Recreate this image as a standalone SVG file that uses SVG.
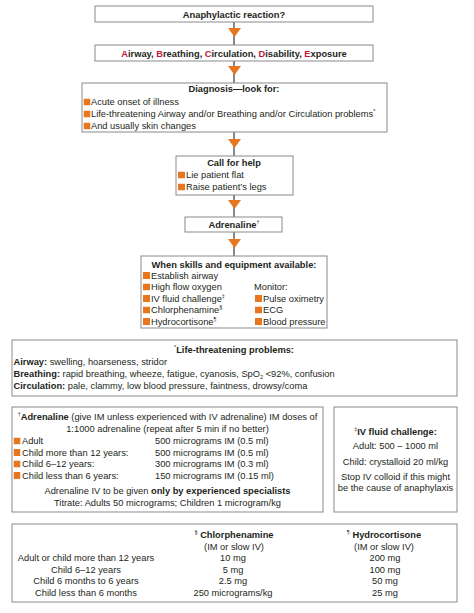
<svg xmlns="http://www.w3.org/2000/svg" width="474" height="613" viewBox="0 0 474 613">
<defs>
<style>
text{font-family:"Liberation Sans",Arial,sans-serif;font-size:9.3px;fill:#231f20}
.b{font-weight:bold}
.c{text-anchor:middle}
.r{fill:#c4153a}
.box{fill:#fff;stroke:#8a8a8a;stroke-width:1}
.sq{fill:#e8761e}
.ln{stroke:#3a3a3a;stroke-width:1.2}
.tri{fill:#e8761e}
.sup{font-size:5.5px}
</style>
<symbol id="s" viewBox="0 0 7 7"><rect width="7" height="7" class="sq"/></symbol>
</defs>
<rect width="474" height="613" fill="#fff"/>
<g id="connectors">
<line class="ln" x1="234" y1="22" x2="234" y2="45"/>
<polygon class="tri" points="228,28 241,28 234.5,37"/>
<line class="ln" x1="234" y1="61" x2="234" y2="83"/>
<polygon class="tri" points="228,66 241,66 234.5,75"/>
<line class="ln" x1="234" y1="132" x2="234" y2="156"/>
<polygon class="tri" points="228,139 241,139 234.5,148"/>
<line class="ln" x1="234" y1="195" x2="234" y2="217"/>
<polygon class="tri" points="228,200 241,200 234.5,209"/>
<line class="ln" x1="234" y1="232" x2="234" y2="256"/>
<polygon class="tri" points="228,239 241,239 234.5,248"/>
</g>
<g id="n1">
<rect class="box" x="95" y="6" width="278" height="16"/>
<text class="b c" x="234" y="17.5">Anaphylactic reaction?</text>
</g>
<g id="n2">
<rect class="box" x="95" y="45" width="278" height="16"/>
<text class="b c" x="234" y="56.5"><tspan class="r">A</tspan>irway, <tspan class="r">B</tspan>reathing, <tspan class="r">C</tspan>irculation, <tspan class="r">D</tspan>isability, <tspan class="r">E</tspan>xposure</text>
</g>
<g id="n3">
<rect class="box" x="82" y="83" width="305" height="49"/>
<text class="b c" x="234" y="92">Diagnosis—look for:</text>
<use href="#s" x="83.5" y="98.5" width="7" height="7"/>
<text x="91" y="105">Acute onset of illness</text>
<use href="#s" x="83.5" y="110.5" width="7" height="7"/>
<text x="91" y="117">Life-threatening Airway and/or Breathing and/or Circulation problems<tspan class="sup" dy="-4">*</tspan></text>
<use href="#s" x="83.5" y="122.5" width="7" height="7"/>
<text x="91" y="129">And usually skin changes</text>
</g>
<g id="n4">
<rect class="box" x="176" y="156" width="117" height="39"/>
<text class="b c" x="234" y="166">Call for help</text>
<use href="#s" x="178" y="171.5" width="7" height="7"/>
<text x="186" y="178">Lie patient flat</text>
<use href="#s" x="178" y="183.5" width="7" height="7"/>
<text x="186" y="190">Raise patient’s legs</text>
</g>
<g id="n5">
<rect class="box" x="185" y="217" width="97" height="15"/>
<text class="b c" x="234" y="228">Adrenaline<tspan class="sup" dy="-4" font-weight="normal">†</tspan></text>
</g>
<g id="n6">
<rect class="box" x="141" y="256" width="186" height="72"/>
<text class="b c" x="234" y="267.5">When skills and equipment available:</text>
<use href="#s" x="143" y="272" width="7" height="7"/>
<text x="151" y="278.5">Establish airway</text>
<use href="#s" x="143" y="283.5" width="7" height="7"/>
<text x="151" y="290">High flow oxygen</text>
<use href="#s" x="143" y="295" width="7" height="7"/>
<text x="151" y="301.5">IV fluid challenge<tspan class="sup" dy="-4">‡</tspan></text>
<use href="#s" x="143" y="306.5" width="7" height="7"/>
<text x="151" y="313">Chlorphenamine<tspan class="sup" dy="-4">§</tspan></text>
<use href="#s" x="143" y="318" width="7" height="7"/>
<text x="151" y="324.5">Hydrocortisone<tspan class="sup" dy="-4">¶</tspan></text>
<text x="254" y="290">Monitor:</text>
<use href="#s" x="255" y="295" width="7" height="7"/>
<text x="263" y="301.5">Pulse oximetry</text>
<use href="#s" x="255" y="306.5" width="7" height="7"/>
<text x="263" y="313">ECG</text>
<use href="#s" x="255" y="318" width="7" height="7"/>
<text x="263" y="324.5">Blood pressure</text>
</g>
<g id="n7">
<rect class="box" x="12" y="340" width="445" height="56"/>
<text class="b c" x="234" y="353"><tspan class="sup" dy="-4" font-weight="normal">*</tspan><tspan dy="4">Life-threatening problems:</tspan></text>
<text x="13.5" y="365"><tspan class="b">Airway:</tspan> swelling, hoarseness, stridor</text>
<text x="13.5" y="377"><tspan class="b">Breathing:</tspan> rapid breathing, wheeze, fatigue, cyanosis, SpO<tspan class="sup" dy="2">2</tspan><tspan dy="-2"> &lt;92%, confusion</tspan></text>
<text x="13.5" y="389"><tspan class="b">Circulation:</tspan> pale, clammy, low blood pressure, faintness, drowsy/coma</text>
</g>
<g id="n8">
<rect class="box" x="12" y="407" width="311" height="105"/>
<text class="c" x="167.5" y="420"><tspan class="sup" dy="-4">†</tspan><tspan class="b" dy="4">Adrenaline</tspan> (give IM unless experienced with IV adrenaline) IM doses of</text>
<text class="c" x="167.5" y="431.5">1:1000 adrenaline (repeat after 5 min if no better)</text>
<use href="#s" x="13.5" y="437.5" width="7" height="7"/>
<text x="22" y="444">Adult</text>
<text x="155" y="444">500 micrograms IM (0.5 ml)</text>
<use href="#s" x="13.5" y="449" width="7" height="7"/>
<text x="22" y="455.5">Child more than 12 years:</text>
<text x="155" y="455.5">500 micrograms IM (0.5 ml)</text>
<use href="#s" x="13.5" y="460.5" width="7" height="7"/>
<text x="22" y="467">Child 6–12 years:</text>
<text x="155" y="467">300 micrograms IM (0.3 ml)</text>
<use href="#s" x="13.5" y="472" width="7" height="7"/>
<text x="22" y="478.5">Child less than 6 years:</text>
<text x="155" y="478.5">150 micrograms IM (0.15 ml)</text>
<text class="c" x="167.5" y="494">Adrenaline IV to be given <tspan class="b">only by experienced specialists</tspan></text>
<text class="c" x="167.5" y="506">Titrate: Adults 50 micrograms; Children 1 microgram/kg</text>
</g>
<g id="n9">
<rect class="box" x="334" y="407" width="123" height="105"/>
<text class="c" x="395.5" y="435"><tspan class="sup" dy="-4">‡</tspan><tspan class="b" dy="4">IV fluid challenge:</tspan></text>
<text class="c" x="395.5" y="449">Adult: 500 – 1000 ml</text>
<text class="c" x="395.5" y="465">Child: crystalloid 20 ml/kg</text>
<text class="c" x="395.5" y="480">Stop IV colloid if this might</text>
<text class="c" x="395.5" y="491">be the cause of anaphylaxis</text>
</g>
<g id="n10">
<rect class="box" x="12" y="524" width="445" height="78"/>
<text class="c" x="234" y="538"><tspan class="sup" dy="-4">§</tspan><tspan class="b" dy="4"> Chlorphenamine</tspan></text>
<text class="c" x="234" y="549.5">(IM or slow IV)</text>
<text class="c" x="384" y="538"><tspan class="sup" dy="-4">¶</tspan><tspan class="b" dy="4"> Hydrocortisone</tspan></text>
<text class="c" x="384" y="549.5">(IM or slow IV)</text>
<text class="c" x="86" y="561">Adult or child more than 12 years</text>
<text class="c" x="233" y="561">10 mg</text>
<text class="c" x="385" y="561">200 mg</text>
<text class="c" x="86" y="572.5">Child 6–12 years</text>
<text class="c" x="233" y="572.5">5 mg</text>
<text class="c" x="385" y="572.5">100 mg</text>
<text class="c" x="86" y="584">Child 6 months to 6 years</text>
<text class="c" x="233" y="584">2.5 mg</text>
<text class="c" x="385" y="584">50 mg</text>
<text class="c" x="86" y="596">Child less than 6 months</text>
<text class="c" x="233" y="596">250 micrograms/kg</text>
<text class="c" x="385" y="596">25 mg</text>
</g>
</svg>
